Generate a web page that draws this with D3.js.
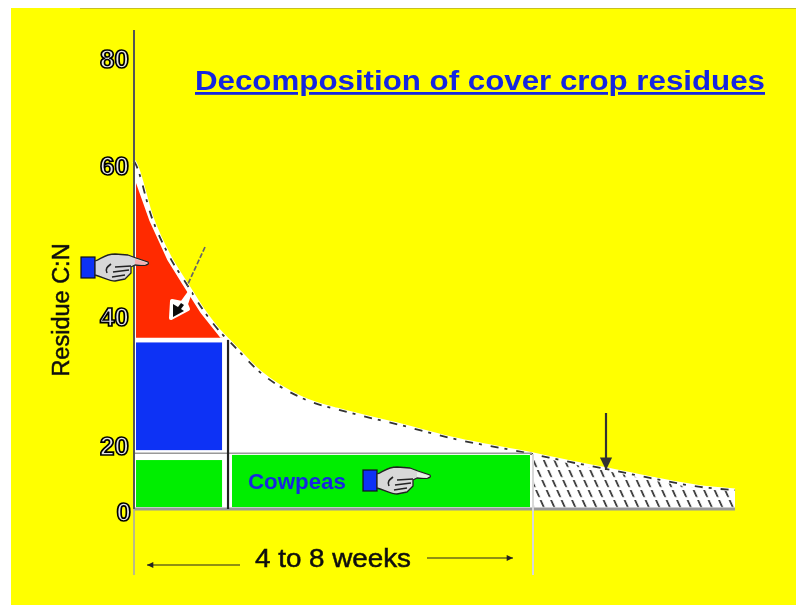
<!DOCTYPE html>
<html><head><meta charset="utf-8">
<script src="https://cdn.jsdelivr.net/npm/d3@7/dist/d3.min.js"></script>
<style>html,body{margin:0;padding:0;background:#fff}svg{display:block}text{font-family:"Liberation Sans",Arial,sans-serif}</style>
</head><body><svg id="c" width="796" height="605"></svg>
<script>
const yTicks=[0,20,40,60,80];
const curveWeeks=[0,.02,.36,.72,1.07,1.39,1.79,1.89,2.53,3.34,4.34,5.35,6.35,8,8.76,9.49,10.37,11.38,12.08];
const curveValues=[60.7,60.4,53,47.8,44.1,40.8,37.05,36.3,31.3,27.4,25,23.1,21.1,17.2,14.7,12.5,9.7,6.9,5.9];
const redEndWeek=1.79, redFloor=36.3, phaseWeek=1.89, endWeek=8;

const svg=d3.select("#c");
const x=d3.scaleLinear().domain([0,8]).range([134,532]);
const y=d3.scaleLinear().domain(yTicks).range([509,445,316,165,58]);
const pts=curveWeeks.map((w,i)=>({w,v:curveValues[i]}));
const defs=svg.append("defs");
const f=defs.append("filter").attr("id","soft").attr("x","-5%").attr("y","-5%").attr("width","110%").attr("height","110%");
f.append("feGaussianBlur").attr("stdDeviation",0.6);
const p=defs.append("pattern").attr("id","hatch").attr("patternUnits","userSpaceOnUse").attr("width",10.5).attr("height",20).attr("patternTransform","skewX(24)");
p.append("rect").attr("width",10.5).attr("height",20).attr("fill","#fff");
p.append("line").attr("x1",3).attr("x2",3).attr("y1",0).attr("y2",20).attr("stroke","#333").attr("stroke-width",1.9).attr("stroke-dasharray","7 3");

svg.append("rect").attr("width",796).attr("height",605).attr("fill","#fff");
svg.append("rect").attr("x",11).attr("y",8).attr("width",785).attr("height",597).attr("fill","#ffff00");
svg.append("line").attr("x1",80).attr("x2",796).attr("y1",8.5).attr("y2",8.5).attr("stroke","#c8c020");

const g=svg.append("g").attr("filter","url(#soft)");
const area=d3.area().x(d=>x(d.w)).y1(d=>y(d.v)).curve(d3.curveMonotoneX);
const seg=(a,b)=>pts.filter(d=>d.w>=a&&d.w<=b);
const curveLine=d3.line().x(d=>x(d.w)).y(d=>y(d.v)).curve(d3.curveMonotoneX);

g.append("path").datum(seg(0,13)).attr("fill","#fff").attr("d",area.y0(y(0)));
g.append("path").datum(seg(.3,redEndWeek)).attr("fill","#ff2a00")
  .attr("d",d=>{const top=d.map(e=>[x(e.w)-2.5,y(e.v)+3]);
    return d3.line()([[x(0)+2,y(redFloor)-2],[x(0)+2,y(57.6)],...top,[x(redEndWeek),y(redFloor)-2]])+"Z";});
const rects=[
 {a:0,b:redEndWeek,top:35.9,bot:18.4,c:"#1030f5"},
 {a:0,b:redEndWeek,top:15.3,bot:.6,c:"#00ee00"},
 {a:phaseWeek,b:endWeek,top:16.9,bot:.6,c:"#00ee00"}];
g.selectAll("rect.p").data(rects).join("rect").attr("class","p")
 .attr("x",d=>x(d.a)+(d.a?4:2)).attr("width",d=>x(d.b)-x(d.a)-(d.a?6:3))
 .attr("y",d=>y(d.top)).attr("height",d=>y(d.bot)-y(d.top)).attr("fill",d=>d.c);
g.append("path").datum(seg(endWeek,13)).attr("fill","url(#hatch)").attr("d",area.y0(y(0)));
g.append("path").datum(pts).attr("fill","none").attr("stroke","#fff").attr("stroke-width",3.4).attr("d",curveLine);
g.append("path").datum(pts).attr("fill","none").attr("stroke","#333").attr("stroke-width",1.8).attr("stroke-dasharray","8 6 3 9").attr("d",curveLine);
g.append("line").attr("x1",x(0)).attr("x2",x(12.08)).attr("y1",y(0)).attr("y2",y(0)).attr("stroke","#999").attr("stroke-width",3);
g.append("line").attr("x1",x(0)).attr("x2",x(8)).attr("y1",y(17.4)).attr("y2",y(17.4)).attr("stroke","#999").attr("stroke-width",1.5);
g.append("line").attr("x1",x(phaseWeek)).attr("x2",x(phaseWeek)).attr("y1",y(36.3)).attr("y2",y(0)).attr("stroke","#222").attr("stroke-width",2.2);
g.append("line").attr("x1",x(endWeek)+1).attr("x2",x(endWeek)+1).attr("y1",y(17.2)).attr("y2",575).attr("stroke","#d8d8d8").attr("stroke-width",2);
g.append("line").attr("x1",x(0)).attr("x2",x(0)).attr("y1",30).attr("y2",y(0)).attr("stroke","#555").attr("stroke-width",2);
g.append("line").attr("x1",x(0)).attr("x2",x(0)).attr("y1",y(0)).attr("y2",575).attr("stroke","#aaa").attr("stroke-width",1.6);

const ax=g.append("g").attr("transform","translate(129,0)").call(d3.axisLeft(y).tickValues(yTicks).tickSize(0).tickPadding(0));
ax.select(".domain").remove();
ax.selectAll("text").attr("font-size",26).attr("font-weight","bold").attr("font-family",'"Liberation Sans"')
  .attr("fill","#e4e4e4").attr("stroke","#000").attr("stroke-width",1.7).attr("dy","0.36em")
  .attr("dx",d=>d===0?2:0);
ax.selectAll("g.tick").filter(d=>d===0).select("text").attr("y",2);

function arrow(x1,y1,x2,y2,col,w,hs){
  const a=Math.atan2(y2-y1,x2-x1);
  g.append("line").attr("x1",x1).attr("y1",y1).attr("x2",x2).attr("y2",y2).attr("stroke",col).attr("stroke-width",w);
  g.append("path").attr("fill",col).attr("d",d3.line()([[x2,y2],[x2-hs*Math.cos(a-.45),y2-hs*Math.sin(a-.45)],[x2-hs*Math.cos(a+.45),y2-hs*Math.sin(a+.45)]])+"Z");
}
arrow(240,565,147,565,"#222",1.2,7);
arrow(427,558,513,558,"#222",1.2,7);
arrow(606,413,606,470,"#333",2.2,14);
g.append("path").attr("fill","#fff").attr("stroke","#fff").attr("stroke-width",4).attr("stroke-linejoin","round")
 .attr("d",d3.line()([[190,292],[182,303],[172,301],[171,318],[188,309],[186,304]])+"Z");
g.append("line").attr("x1",205).attr("y1",247).attr("x2",187).attr("y2",286).attr("stroke","#666").attr("stroke-width",1.7).attr("stroke-dasharray","5 2");
g.append("path").attr("fill","#111").attr("d",d3.line()([[173,317],[173,304],[178,307],[181,303],[184,305],[181,309],[184,311]])+"Z");

function hand(tx,ty,tip){
  const h=g.append("g").attr("transform",`translate(${tx},${ty})`);
  h.append("rect").attr("x",0).attr("y",2).attr("width",14).attr("height",21).attr("fill","#1030f5").attr("stroke","#111").attr("stroke-width",1.2);
  h.append("path").attr("fill","#d8d8d8").attr("stroke","#222").attr("stroke-width",1.3).attr("stroke-linejoin","round")
   .attr("d","M14,6 C20,4 24,-1 34,-1 L47,0 L55,3 L67,7 C69,10 64,11 54,10 L50,12 L50,18 L44,24 L34,26 C28,26 22,22 14,20 Z");
  h.append("path").attr("fill","none").attr("stroke","#222").attr("stroke-width",1.6)
   .attr("d","M34,12 L50,11 M32,17 L48,15 M31,22 L44,20 M30,9 C26,12 24,14 26,18");
  h.append("path").attr("fill",tip).attr("d","M54,4 L66,8 L64,10 L54,9 Z");
}
hand(81,255,"#f4b0b0");
hand(363,468,"#e8f4e8");

g.append("text").attr("x",195).attr("y",90).attr("font-size",28).attr("font-weight","bold").attr("fill","#1428e0")
  .attr("text-decoration","underline").attr("textLength",570).attr("lengthAdjust","spacingAndGlyphs").text("Decomposition of cover crop residues");
g.append("text").attr("transform","translate(69,310) rotate(-90)").attr("text-anchor","middle").attr("font-size",23.5).attr("fill","#111")
  .attr("stroke","#111").attr("stroke-width",.5).text("Residue C:N");
g.append("text").attr("x",248).attr("y",489).attr("font-size",22.3).attr("font-weight","bold").attr("fill","#1428e0").text("Cowpeas");
g.append("text").attr("x",255).attr("y",567).attr("font-size",25).attr("fill","#111").attr("stroke","#111").attr("stroke-width",.5)
  .attr("textLength",156).attr("lengthAdjust","spacingAndGlyphs").text("4 to 8 weeks");
</script></body></html>
